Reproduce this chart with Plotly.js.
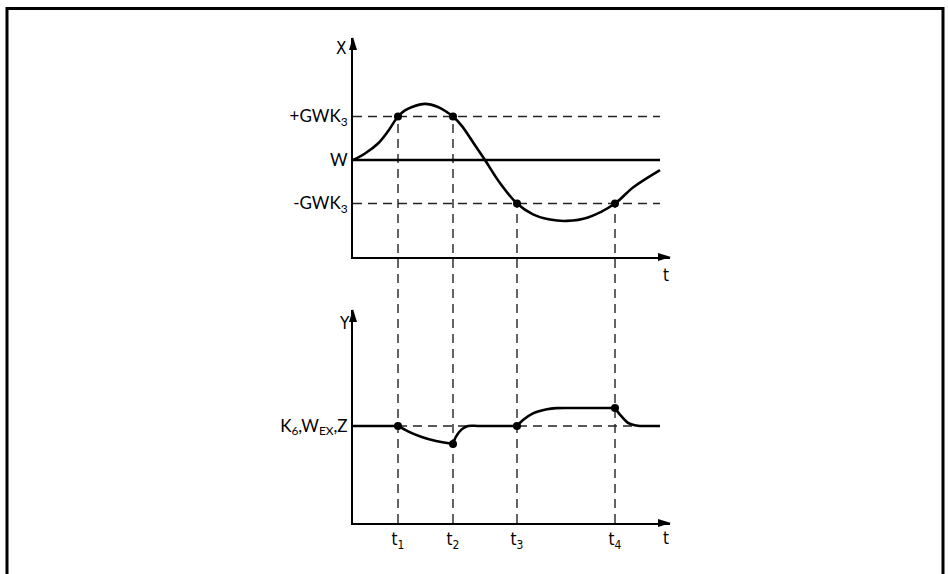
<!DOCTYPE html>
<html>
<head>
<meta charset="utf-8">
<script src="https://cdn.plot.ly/plotly-3.0.1.min.js"></script>
<style>html,body{margin:0;padding:0;background:#fff;}#chart{width:948px;height:574px;}</style>
</head>
<body>
<div id="chart"></div>
<script>
// ---- data ----
const tTicks = [4.5, 10, 16.4, 26.2];
const tLabels = ['t<sub>1</sub>', 't<sub>2</sub>', 't<sub>3</sub>', 't<sub>4</sub>'];
const tEnd = 30.7;
const tArrow = 31.7;

// top panel: controlled variable X vs setpoint W
const topLevelVals = [1, 0, -1];
const topLevelLabels = ['+GWK<sub>3</sub>', 'W', '-GWK<sub>3</sub>'];
const curveX_t = [0, 1.2, 2.5, 3.5, 4.5, 5.2, 5.9, 7.2, 8.5, 9.4, 10, 10.9, 12.2, 13.2, 14.7, 16.4, 18, 19.7, 21.4, 23.5, 26.2, 28, 30.7];
const curveX_v = [0, 0.15, 0.38, 0.66, 1.0, 1.14, 1.22, 1.29, 1.22, 1.1, 1.0, 0.78, 0.34, 0, -0.53, -1.0, -1.25, -1.37, -1.4, -1.32, -1.0, -0.63, -0.23];
const topDotVals = [1, 1, -1, -1];

// bottom panel: output Y
const botLevelVals = [0];
const botLevelLabels = ['K<sub>6</sub>,W<sub>EX</sub>,Z'];
const curveY_t = [0, 4.5, null, 4.5, 5.5, 6.8, 8.3, 10, null, 10, 10.3, 10.87, 11.5, 12.5, 16.4, null,
                  16.4, 17.0, 18.0, 19.4, 20.3, 21.5, 26.2, null, 26.2, 26.7, 27.5, 28.5, 29.5, 30.7];
const curveY_v = [0, 0, null, 0, -0.3, -0.6, -0.84, -1, null, -1, -0.59, -0.19, 0, 0, 0, null,
                  0, 0.33, 0.70, 0.93, 0.99, 1, 1, null, 1, 0.63, 0.17, 0.01, 0, 0];
const botDotVals = [0, -1, 0, 1];

// ---- layout geometry ----
const W = 948, H = 574;
const xDom = [353 / W, 670 / W];
const xRange = [0, tArrow];
const yDom1 = [(H - 257) / H, (H - 38) / H];
const yRange1 = [-2.23, 2.805];
const yDom2 = [(H - 523) / H, (H - 310) / H];
const yRange2 = [-5.39, 6.44];

function y1ToPaper(v) {
  return yDom1[0] + (v - yRange1[0]) / (yRange1[1] - yRange1[0]) * (yDom1[1] - yDom1[0]);
}

const font = "Lato, 'Open Sans', sans-serif";
const narrow = "'Liberation Sans Narrow', 'DejaVu Sans Condensed', 'Liberation Sans', sans-serif";
const dashStyle = {color: '#222', width: 1.4, dash: '9px,6px'};
const solid = {color: '#000', width: 2.6};

const traces = [
  {x: [0, tEnd], y: [1, 1], xaxis: 'x', yaxis: 'y', mode: 'lines', line: dashStyle, hoverinfo: 'skip'},
  {x: [0, tEnd], y: [-1, -1], xaxis: 'x', yaxis: 'y', mode: 'lines', line: dashStyle, hoverinfo: 'skip'},
  {x: [0, tEnd], y: [0, 0], xaxis: 'x', yaxis: 'y', mode: 'lines', line: solid, hoverinfo: 'skip'},
  {x: curveX_t, y: curveX_v, xaxis: 'x', yaxis: 'y', mode: 'lines', line: {color: '#000', width: 2.6, shape: 'spline', smoothing: 1}},
  {x: tTicks, y: topDotVals, xaxis: 'x', yaxis: 'y', mode: 'markers', marker: {color: '#000', size: 8}},
  {x: [0, tEnd], y: [0, 0], xaxis: 'x2', yaxis: 'y2', mode: 'lines', line: dashStyle, hoverinfo: 'skip'},
  {x: curveY_t, y: curveY_v, xaxis: 'x2', yaxis: 'y2', mode: 'lines', connectgaps: false, line: {color: '#000', width: 2.6, shape: 'spline', smoothing: 0.8}},
  {x: tTicks, y: botDotVals, xaxis: 'x2', yaxis: 'y2', mode: 'markers', marker: {color: '#000', size: 8}}
];

const shapes = [];
shapes.push({type: 'path', xref: 'paper', yref: 'paper',
  path: `M ${7/W},-0.02 L ${7/W},${(H-8.5)/H} L ${943/W},${(H-8.5)/H} L ${943/W},-0.02`,
  line: {color: '#000', width: 3}});
tTicks.forEach((t, i) => {
  shapes.push({type: 'line', xref: 'x', yref: 'paper', x0: t, x1: t,
    y0: yDom2[0], y1: y1ToPaper(topDotVals[i]), line: dashStyle, layer: 'below'});
});
function hArrow(yd) {
  return {type: 'path', xref: 'paper', yref: 'paper', xsizemode: 'pixel', ysizemode: 'pixel',
    xanchor: xDom[1], yanchor: yd, path: 'M 1,0 L -12,4 L -12,-4 Z', fillcolor: '#000', line: {width: 0}};
}
function vArrow(yd) {
  return {type: 'path', xref: 'paper', yref: 'paper', xsizemode: 'pixel', ysizemode: 'pixel',
    xanchor: xDom[0], yanchor: yd, path: 'M 0,1 L -4,-12 L 4,-12 Z', fillcolor: '#000', line: {width: 0}};
}
shapes.push(hArrow(yDom1[0]), hArrow(yDom2[0]), vArrow(yDom1[1]), vArrow(yDom2[1]));

const axX = {domain: xDom, range: xRange, showline: true, linecolor: '#000', linewidth: 2,
  showgrid: false, zeroline: false, ticks: '', fixedrange: true};
const axY = {showline: true, linecolor: '#000', linewidth: 2, showgrid: false, zeroline: false,
  ticks: '', fixedrange: true, tickfont: {family: font, size: 17, color: '#000'}};

function label(text, px, py) {
  return {text: text, xref: 'paper', yref: 'paper', x: px / W, y: (H - py) / H,
    xanchor: 'center', yanchor: 'middle', showarrow: false,
    font: {family: narrow, size: 17, color: '#000'}};
}

const layout = {
  width: W, height: H, margin: {l: 0, r: 0, t: 0, b: 0},
  paper_bgcolor: '#fff', plot_bgcolor: 'rgba(0,0,0,0)', showlegend: false,
  xaxis: Object.assign({}, axX, {anchor: 'y', showticklabels: false}),
  yaxis: Object.assign({}, axY, {domain: yDom1, range: yRange1, anchor: 'x', tickvals: topLevelVals, ticktext: topLevelLabels}),
  xaxis2: Object.assign({}, axX, {anchor: 'y2', tickvals: tTicks, ticktext: tLabels,
    tickfont: {family: narrow, size: 17, color: '#000'}}),
  yaxis2: Object.assign({}, axY, {domain: yDom2, range: yRange2, anchor: 'x2', tickvals: botLevelVals, ticktext: botLevelLabels}),
  shapes: shapes,
  annotations: [
    label('X', 341, 48),
    label('t', 666, 275),
    label('Y', 344, 323),
    label('t', 666, 538)
  ]
};

Plotly.newPlot('chart', traces, layout, {staticPlot: true, displayModeBar: false});
</script>
</body>
</html>
